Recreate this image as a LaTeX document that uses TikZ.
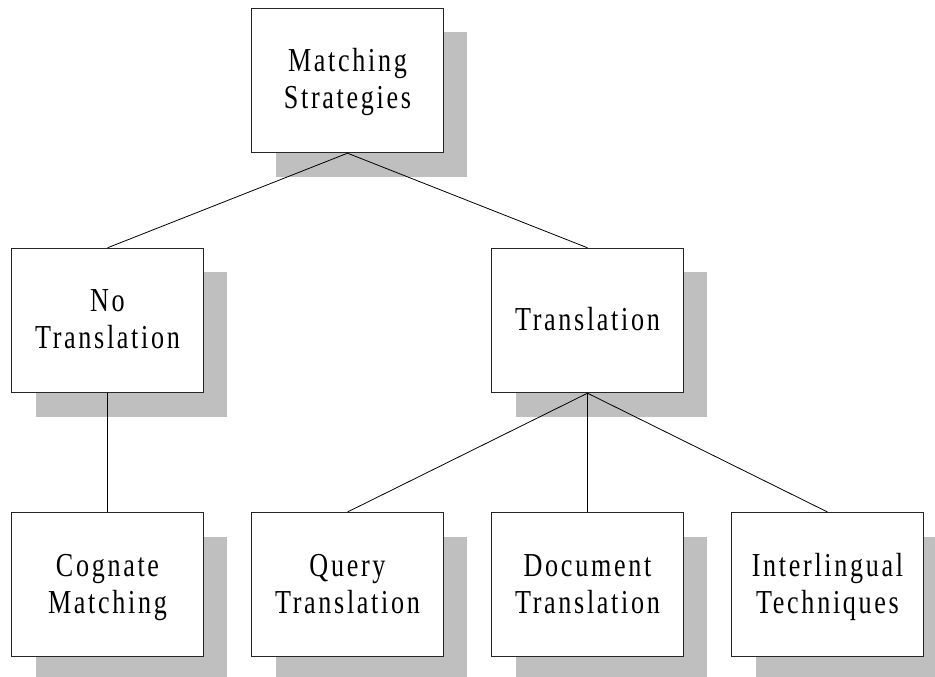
\documentclass[tikz,border=0pt]{standalone}
\usepackage{fontspec}
\setmainfont{Liberation Serif}[FakeStretch=0.78,LetterSpace=8]
% fixed line strut so every label sits on the same baselines
\newcommand{\lnstrut}{\rule[-8.7pt]{0pt}{37pt}}
\begin{document}
\begin{tikzpicture}[x=1pt,y=-1pt,
  box/.style={draw=black!85,line width=1pt,fill=white,minimum width=191.6pt,
    minimum height=144.4pt,inner sep=0pt,align=center,
    font=\fontsize{33.5}{37}\selectfont},
  shade/.style={fill=black!25,draw=none},
  link/.style={draw=black,line width=0.8pt}]
\clip (0,0) rectangle (935,677);
\useasboundingbox (0,0) rectangle (935,677);
% drop shadows behind each box
\foreach \cx/\cy in {347.5/80.5, 107.5/320.5, 587.5/320.5,
    107.5/584.7, 347.5/584.7, 587.5/584.7, 827.5/584.7}
  \fill[shade] (\cx-95.8+24,\cy-72.2+24) rectangle (\cx+95.8+24,\cy+72.2+24);
% boxes
\node[box] (ms) at (347.5,80.5) {\lnstrut Matching\\\lnstrut Strategies};
\node[box] (nt) at (107.5,320.5) {\lnstrut No\\\lnstrut Translation};
\node[box] (tr) at (587.5,320.5) {\lnstrut Translation};
\node[box] (cm) at (107.5,584.7) {\lnstrut Cognate\\\lnstrut Matching};
\node[box] (qt) at (347.5,584.7) {\lnstrut Query\\\lnstrut Translation};
\node[box] (dt) at (587.5,584.7) {\lnstrut Document\\\lnstrut Translation};
\node[box] (it) at (827.5,584.7) {\lnstrut Interlingual\\\lnstrut Techniques};
% tree connectors
\draw[link] (ms.south) -- (nt.north);
\draw[link] (ms.south) -- (tr.north);
\draw[link] (nt.south) -- (cm.north);
\draw[link] (tr.south) -- (qt.north);
\draw[link] (tr.south) -- (dt.north);
\draw[link] (tr.south) -- (it.north);
\end{tikzpicture}
\end{document}
